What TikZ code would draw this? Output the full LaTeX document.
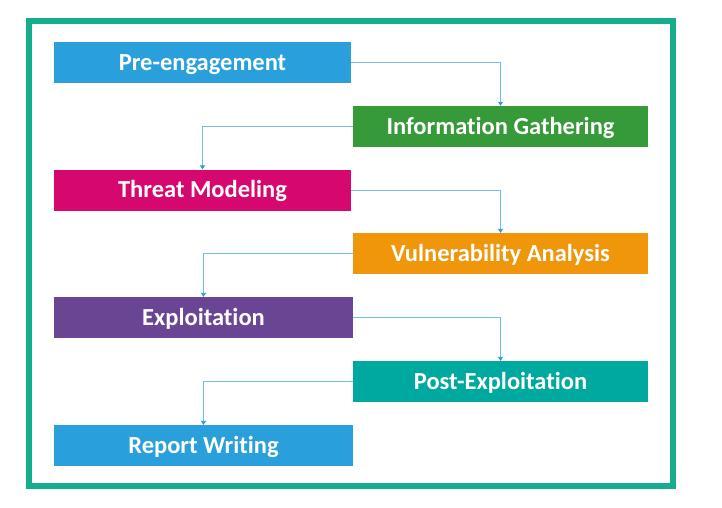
\documentclass[tikz,border=0pt]{standalone}
\usepackage{fontspec}
\setmainfont{Carlito}[Ligatures=NoCommon]
\usetikzlibrary{arrows.meta}

\definecolor{frameteal}{HTML}{14AE8C}
\definecolor{boxblue}{HTML}{29A0DC}
\definecolor{boxgreen}{HTML}{369A38}
\definecolor{boxmagenta}{HTML}{D60870}
\definecolor{boxorange}{HTML}{EF960B}
\definecolor{boxpurple}{HTML}{694593}
\definecolor{boxteal}{HTML}{00A99F}
\definecolor{linkblue}{HTML}{6CC0EA}
\definecolor{tipblue}{HTML}{2A9BD8}

\tikzset{
	phase/.style={rectangle, inner sep=0pt, minimum height=41pt, text height=15.5pt, text depth=0pt, text=white, font=\fontsize{24.5}{28}\selectfont\bfseries},
	leftphase/.style={phase, minimum width=297pt},
	rightphase/.style={phase, minimum width=295pt},
	link/.style={draw=linkblue, line width=0.9pt, -{Triangle[width=5pt,length=4pt,color=tipblue]}}
}

\begin{document}
\begin{tikzpicture}[x=1pt,y=-1pt]
	\useasboundingbox	(0,0) rectangle (722,507);
	\fill[white]	(0,0) rectangle (722,507);
	\draw[frameteal, line width=6pt]	(29,21) rectangle (672.5,485.5);

	\node 	(pre)		at	(202.5,62.5) 	[leftphase, fill=boxblue]{Pre-engagement};
	\node 	(info)		at	(500.5,126.5) 	[rightphase, fill=boxgreen]{Information Gathering};
	\node 	(threat)	at	(202.5,190) 	[leftphase, fill=boxmagenta]{Threat Modeling};
	\node 	(vuln)		at	(500.5,253.5) 	[rightphase, fill=boxorange]{Vulnerability Analysis};
	\node 	(exploit)	at	(203.5,317.5) 	[leftphase, minimum width=299pt, fill=boxpurple]{Exploitation};
	\node 	(post)		at	(500.5,381.5) 	[rightphase, fill=boxteal]{Post-Exploitation};
	\node 	(report)	at	(203.5,445.5) 	[leftphase, minimum width=299pt, fill=boxblue]{Report Writing};

	\draw[link]	(pre.east)	-|	(info.north);
	\draw[link]	(info.west)	-|	(threat.north);
	\draw[link]	(threat.east)	-|	(vuln.north);
	\draw[link]	(vuln.west)	-|	(exploit.north);
	\draw[link]	(exploit.east)	-|	(post.north);
	\draw[link]	(post.west)	-|	(report.north);

\end{tikzpicture}
\end{document}
